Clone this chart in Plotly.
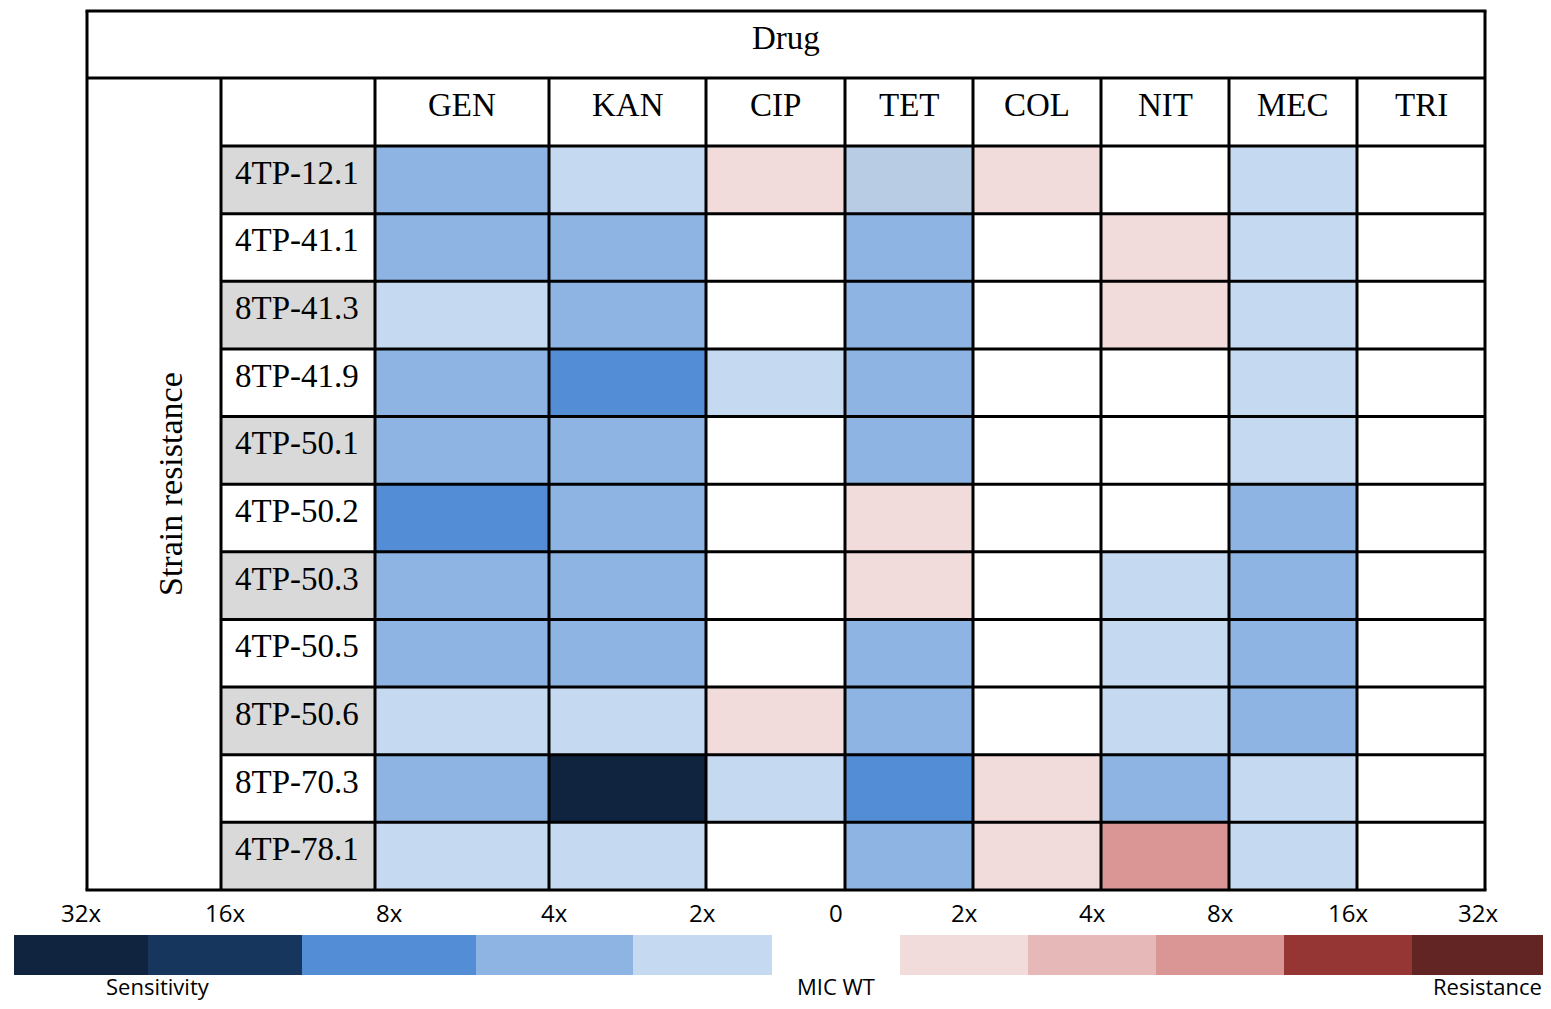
import plotly.graph_objects as go

# ---------------- data ----------------
drugs = ["GEN", "KAN", "CIP", "TET", "COL", "NIT", "MEC", "TRI"]
strains = ["4TP-12.1", "4TP-41.1", "8TP-41.3", "8TP-41.9", "4TP-50.1", "4TP-50.2",
           "4TP-50.3", "4TP-50.5", "8TP-50.6", "8TP-70.3", "4TP-78.1"]

# fold change of MIC vs WT: negative = sensitivity (-1=2x ... -5=32x), positive = resistance
# 6 = pale grey-blue shade (unlabelled in legend)
GEN = [-2, -2, -1, -2, -2, -3, -2, -2, -1, -2, -1]
KAN = [-1, -2, -2, -3, -2, -2, -2, -2, -1, -5, -1]
CIP = [1, 0, 0, -1, 0, 0, 0, 0, 1, -1, 0]
TET = [6, -2, -2, -2, -2, 1, 1, -2, -2, -3, -2]
COL = [1, 0, 0, 0, 0, 0, 0, 0, 0, 1, 1]
NIT = [0, 1, 1, 0, 0, 0, -1, -1, -1, -2, 3]
MEC = [-1, -1, -1, -1, -1, -2, -2, -2, -2, -1, -1]
TRI = [0, 0, 0, 0, 0, 0, 0, 0, 0, 0, 0]
values_by_drug = [GEN, KAN, CIP, TET, COL, NIT, MEC, TRI]

legend_levels = [-5, -4, -3, -2, -1, 0, 1, 2, 3, 4, 5]
legend_labels = ["32x", "16x", "8x", "4x", "2x", "0", "2x", "4x", "8x", "16x", "32x"]

# ---------------- styling / layout ----------------
level_colors = {
    -5: "#10233F", -4: "#17365D", -3: "#538DD5", -2: "#8DB4E2", -1: "#C5D9F1",
    0: "#FFFFFF", 1: "#F2DCDB", 2: "#E6B8B7", 3: "#DA9694", 4: "#963634", 5: "#632523",
    6: "#B8CCE4",
}
order = [-5, -4, -3, -2, -1, 0, 1, 2, 3, 4, 5, 6]
n = len(order)
cscale = []
for i, lv in enumerate(order):
    cscale.append([i / n, level_colors[lv]])
    cscale.append([(i + 1) / n, level_colors[lv]])

W, H = 1551, 1009
OFF = 8  # page body margin
X_END, Y_END = W - OFF, H - OFF   # figure fits inside the page without scrolling
SERIF = "Liberation Serif"
SANS = "Open Sans"

# table geometry (page pixels)
x_left, x_mid, x_lab = 87, 221, 375
col_w = [174, 157, 139, 128, 128, 128, 128, 128]
col_edges = [x_lab]
for w in col_w:
    col_edges.append(col_edges[-1] + w)
x_right = col_edges[-1]
y_top, y_head, y_data = 11, 78, 146
y_bottom = 890
row_h = (y_bottom - y_data) / len(strains)
row_edges = [y_data + i * row_h for i in range(len(strains) + 1)]

leg_edges = [14, 148, 302, 476, 633, 772, 900, 1028, 1156, 1284, 1412, X_END]
leg_y0, leg_y1 = 935, 975

fig = go.Figure()

# data cells
z = [[order.index(values_by_drug[j][i]) for j in range(len(drugs))] for i in range(len(strains))]
fig.add_trace(go.Heatmap(
    x=col_edges, y=row_edges, z=z, colorscale=cscale, zmin=-0.5, zmax=n - 0.5,
    showscale=False, hoverinfo="skip"))

# strain label column (alternating grey / white)
zl = [[1 if i % 2 == 0 else 0] for i in range(len(strains))]
fig.add_trace(go.Heatmap(
    x=[x_mid, x_lab], y=row_edges, z=zl,
    colorscale=[[0, "#FFFFFF"], [1, "#D9D9D9"]], zmin=0, zmax=1,
    showscale=False, hoverinfo="skip"))

# legend colour bar
zleg = [[order.index(lv) for lv in legend_levels]]
fig.add_trace(go.Heatmap(
    x=leg_edges, y=[leg_y0, leg_y1], z=zleg, colorscale=cscale, zmin=-0.5, zmax=n - 0.5,
    showscale=False, hoverinfo="skip"))

# grid lines
shapes = []
def hline(y, x0, x1):
    shapes.append(dict(type="line", x0=x0, x1=x1, y0=y, y1=y, xref="x", yref="y",
                       line=dict(color="black", width=3)))
def vline(x, y0, y1):
    shapes.append(dict(type="line", x0=x, x1=x, y0=y0, y1=y1, xref="x", yref="y",
                       line=dict(color="black", width=3)))

hline(y_top, x_left - 1.5, x_right + 1.5)
hline(y_head, x_left, x_right)
for y in row_edges[:-1]:
    hline(y, x_mid, x_right)
hline(y_bottom, x_left - 1.5, x_right + 1.5)
vline(x_left, y_top, y_bottom)
vline(x_right, y_top, y_bottom)
vline(x_mid, y_head, y_bottom)
for x in col_edges[:-1]:
    vline(x, y_head, y_bottom)

annotations = []
annotations.append(dict(x=(x_left + x_right) / 2, y=(y_top + y_head) / 2 - 7, text="Drug",
                        showarrow=False, xanchor="center", yanchor="middle",
                        font=dict(family=SERIF, size=33, color="black")))
for j, d in enumerate(drugs):
    annotations.append(dict(x=(col_edges[j] + col_edges[j + 1]) / 2, y=(y_head + y_data) / 2 - 7,
                            text=d, showarrow=False, xanchor="center", yanchor="middle",
                            font=dict(family=SERIF, size=33, color="black")))
for i, s in enumerate(strains):
    annotations.append(dict(x=x_mid + 12, y=(row_edges[i] + row_edges[i + 1]) / 2 - 7,
                            text=s, showarrow=False, xanchor="left", yanchor="middle",
                            font=dict(family=SERIF, size=33, color="black")))
annotations.append(dict(x=170, y=(y_head + y_bottom) / 2, text="Strain resistance",
                        textangle=-90, showarrow=False, xanchor="center", yanchor="middle",
                        font=dict(family=SERIF, size=34, color="black")))

for k, lab in enumerate(legend_labels):
    annotations.append(dict(x=(leg_edges[k] + leg_edges[k + 1]) / 2, y=912, text=lab,
                            showarrow=False, xanchor="center", yanchor="middle",
                            font=dict(family=SANS, size=24, color="black")))
bottom_font = dict(family=SANS, size=22, color="black")
y_bottom_text = 986
annotations.append(dict(x=158, y=y_bottom_text, text="Sensitivity", showarrow=False,
                        xanchor="center", yanchor="middle", borderpad=0, font=bottom_font))
annotations.append(dict(x=836, y=y_bottom_text, text="MIC WT", showarrow=False,
                        xanchor="center", yanchor="middle", borderpad=0, font=bottom_font))
annotations.append(dict(x=X_END, y=y_bottom_text, text="Resistance", showarrow=False,
                        xanchor="right", yanchor="middle", borderpad=0, font=bottom_font))

fig.update_layout(
    width=X_END - OFF, height=Y_END - OFF, margin=dict(l=0, r=0, t=0, b=0),
    paper_bgcolor="white", plot_bgcolor="white",
    xaxis=dict(range=[OFF, X_END], visible=False, fixedrange=True),
    yaxis=dict(range=[Y_END, OFF], visible=False, fixedrange=True),
    shapes=shapes, annotations=annotations, showlegend=False,
)

fig.write_html("out.html")
